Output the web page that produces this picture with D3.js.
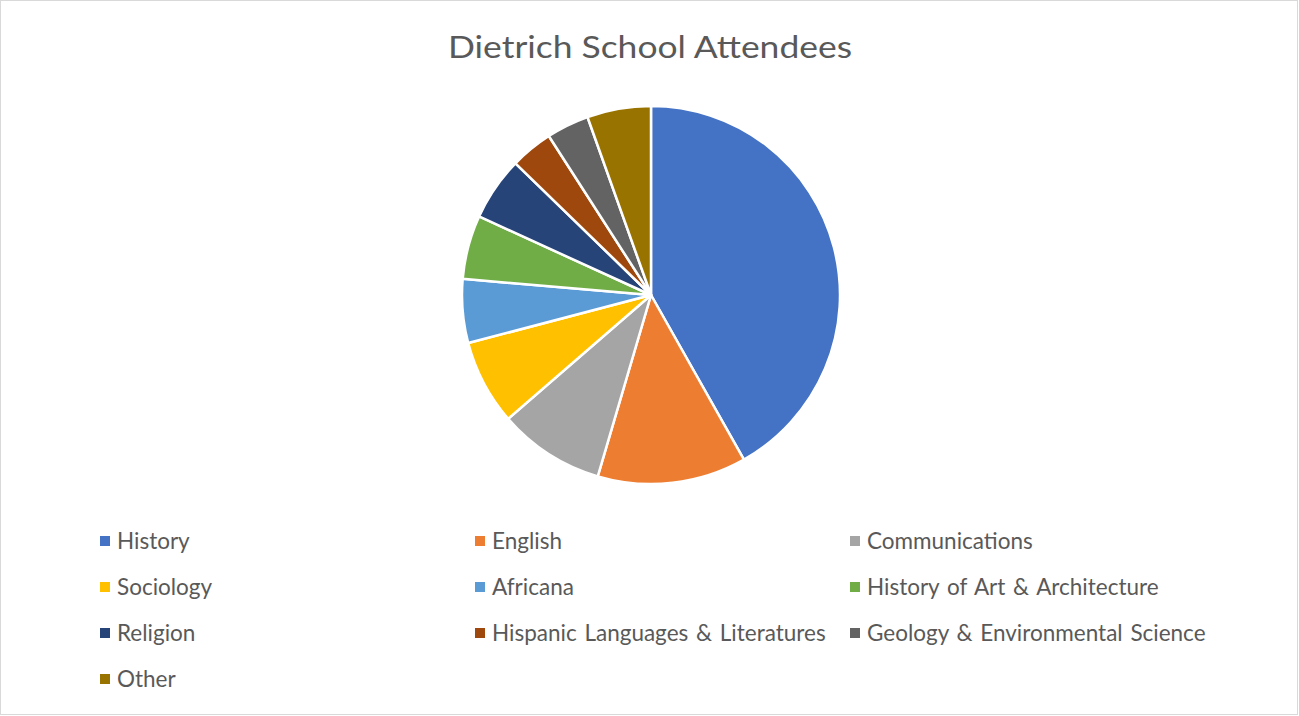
<!DOCTYPE html>
<html><head><meta charset="utf-8">
<script src="https://cdn.jsdelivr.net/npm/d3@7"></script>
<style>body{margin:0;background:#fff}svg{display:block}</style>
</head><body>
<svg id="c" width="1299" height="716"></svg>
<script>
const categories = ["History","English","Communications","Sociology","Africana","History of Art & Architecture","Religion","Hispanic Languages & Literatures","Geology & Environmental Science","Other"];
const values = [23,7,5,4,3,3,3,2,2,3];
const colors = ["#4472C4","#ED7D31","#A5A5A5","#FFC000","#5B9BD5","#70AD47","#264478","#9E480E","#636363","#997300"];
const title = "Dietrich School Attendees";

const svg = d3.select("#c");
svg.append("rect").attr("x",0.5).attr("y",0.5).attr("width",1297).attr("height",714)
  .attr("fill","#fff").attr("stroke","#d9d9d9");
const font = "Lato, 'Open Sans', sans-serif";
const t = svg.append("text").attr("x",650).attr("y",58).attr("text-anchor","middle")
  .attr("font-family",font).attr("font-size",31).attr("fill","#595959").text(title);
t.attr("textLength",404).attr("lengthAdjust","spacingAndGlyphs");

const data = categories.map((c,i)=>({c, v:values[i], col:colors[i]}));
const pie = d3.pie().value(d=>d.v).sort(null);
const arc = d3.arc().innerRadius(0).outerRadius(189);
const g = svg.append("g").attr("transform","translate(651,295)");
g.selectAll("path").data(pie(data)).join("path")
  .attr("d",arc).attr("fill",d=>d.data.col).attr("stroke","#fff").attr("stroke-width",2.5).attr("stroke-linejoin","round");

const colX = [100,475,850], rowY = [541,587,633,679];
const lg = svg.append("g");
data.forEach((d,i)=>{
  const x = colX[i%3], y = rowY[Math.floor(i/3)];
  lg.append("rect").attr("x",x).attr("y",y-5).attr("width",10).attr("height",10).attr("fill",d.col);
  lg.append("text").attr("x",x+17).attr("y",y).attr("dy","0.36em")
    .attr("font-family",font).attr("font-size",22.5).attr("word-spacing",2).attr("fill","#595959").text(d.c);
});
</script>
</body></html>
